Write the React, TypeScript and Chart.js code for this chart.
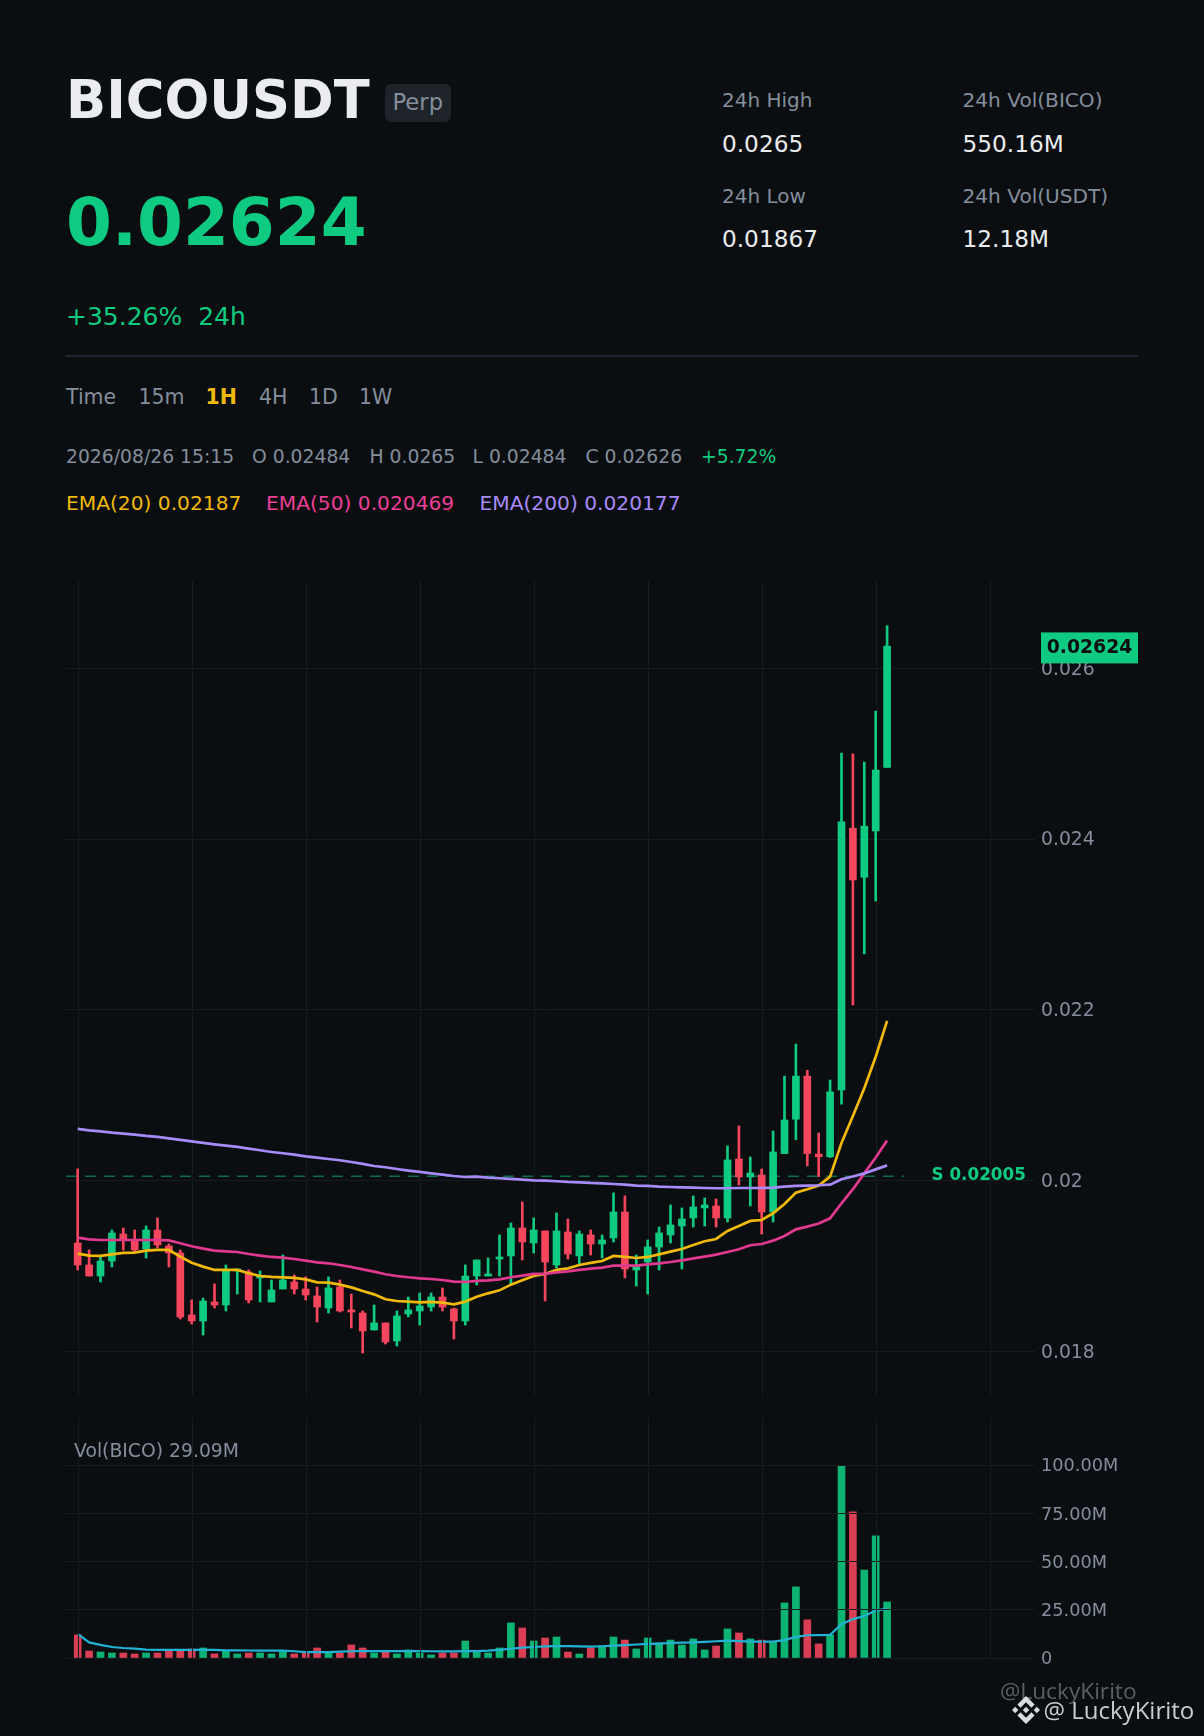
import React, { useEffect, useRef } from "react";
import { Chart, registerables } from "chart.js";

Chart.register(...registerables);

const opens = [
  0.019268, 0.01901, 0.018881, 0.019057, 0.019373, 0.019303, 0.019198, 0.01942, 0.019233, 0.019151,
  0.018424, 0.018354, 0.018577, 0.018541, 0.01894, 0.018928, 0.018858, 0.018577, 0.018729, 0.018811,
  0.018729, 0.018647, 0.018506, 0.018752, 0.018483, 0.018448, 0.018248, 0.018331, 0.01812, 0.018436,
  0.018471, 0.018518, 0.018635, 0.018495, 0.018354, 0.018881, 0.018881, 0.01908, 0.019116, 0.019444,
  0.019268, 0.019409, 0.01901, 0.019397, 0.019116, 0.019362, 0.019256, 0.019327, 0.019631, 0.018952,
  0.019045, 0.019221, 0.019362, 0.019467, 0.019561, 0.019678, 0.019702, 0.019561, 0.020252, 0.020041,
  0.020065, 0.019631, 0.020315, 0.020718, 0.021223, 0.02031, 0.020278, 0.021061, 0.024128, 0.023553,
  0.024095, 0.02484,
];
const highs = [
  0.020135, 0.019186, 0.019104, 0.01942, 0.019444, 0.01942, 0.019467, 0.019561, 0.019256, 0.019186,
  0.0186, 0.018623, 0.018788, 0.01901, 0.018963, 0.018952, 0.01894, 0.018834, 0.019127, 0.018893,
  0.01887, 0.018752, 0.01887, 0.018834, 0.01867, 0.018471, 0.018541, 0.018331, 0.018471, 0.018635,
  0.018682, 0.018682, 0.018741, 0.018506, 0.01901, 0.019069, 0.019092, 0.019362, 0.019502, 0.019748,
  0.019561, 0.019409, 0.01962, 0.019549, 0.019409, 0.01942, 0.019362, 0.019854, 0.019819, 0.019127,
  0.019303, 0.019455, 0.019713, 0.019678, 0.019819, 0.019795, 0.019784, 0.020405, 0.020639, 0.020276,
  0.020135, 0.02058, 0.021223, 0.021598, 0.021292, 0.020556, 0.021177, 0.025008, 0.024999, 0.024901,
  0.025499, 0.0265,
];
const lows = [
  0.018952, 0.018881, 0.018811, 0.018987, 0.019186, 0.019162, 0.019092, 0.019209, 0.018987, 0.018377,
  0.018319, 0.01819, 0.018506, 0.018471, 0.01867, 0.018565, 0.018577, 0.018577, 0.018729, 0.01867,
  0.0186, 0.018342, 0.018448, 0.018459, 0.018272, 0.017979, 0.018248, 0.018084, 0.018061, 0.018401,
  0.018307, 0.018471, 0.018471, 0.018143, 0.018307, 0.018776, 0.018881, 0.018881, 0.018788, 0.019069,
  0.019151, 0.018588, 0.018975, 0.01908, 0.01901, 0.019127, 0.019092, 0.01928, 0.018858, 0.018764,
  0.01867, 0.018952, 0.019268, 0.018963, 0.019455, 0.019467, 0.019455, 0.019514, 0.019948, 0.019702,
  0.019373, 0.019514, 0.020315, 0.020477, 0.020171, 0.020046, 0.020269, 0.020894, 0.022057, 0.022655,
  0.023275, 0.02484,
];
const closes = [
  0.01901, 0.018881, 0.019057, 0.019385, 0.019303, 0.019186, 0.01942, 0.019245, 0.019151, 0.018401,
  0.018354, 0.018588, 0.018541, 0.018952, 0.018963, 0.0186, 0.018881, 0.018717, 0.018834, 0.018729,
  0.018659, 0.018518, 0.018741, 0.018471, 0.018459, 0.018237, 0.018331, 0.018108, 0.018413, 0.018483,
  0.01853, 0.018635, 0.018518, 0.018354, 0.018881, 0.019069, 0.018905, 0.019104, 0.019444, 0.01928,
  0.01942, 0.019045, 0.019409, 0.019139, 0.019373, 0.019256, 0.019303, 0.019631, 0.018963, 0.018998,
  0.019221, 0.019385, 0.019479, 0.019549, 0.01969, 0.019713, 0.019561, 0.020241, 0.020041, 0.020088,
  0.019631, 0.020334, 0.020709, 0.021223, 0.020315, 0.020278, 0.021038, 0.024202, 0.023521, 0.024151,
  0.024809, 0.02626,
];
const ema20 = [
  0.019143, 0.01912, 0.019116, 0.019135, 0.019151, 0.019155, 0.019178, 0.019186, 0.019186, 0.019108,
  0.019037, 0.018991, 0.018952, 0.018952, 0.018952, 0.018913, 0.018881, 0.01887, 0.018866, 0.018858,
  0.018842, 0.018807, 0.018803, 0.01878, 0.018748, 0.018706, 0.018666, 0.018608, 0.018588, 0.018581,
  0.018573, 0.018577, 0.018569, 0.018549, 0.018581, 0.018639, 0.018678, 0.018713, 0.01878, 0.01883,
  0.018881, 0.018905, 0.018952, 0.018971, 0.01901, 0.019034, 0.019057, 0.019116, 0.019104, 0.019092,
  0.019104, 0.019135, 0.019166, 0.019198, 0.019245, 0.019288, 0.019315, 0.019409, 0.019467, 0.019526,
  0.019537, 0.019616, 0.019725, 0.019858, 0.019897, 0.01994, 0.020045, 0.02044, 0.020755, 0.02108,
  0.02145, 0.02187,
];
const ema50 = [
  0.01933, 0.019311, 0.019303, 0.019303, 0.019303, 0.019303, 0.019303, 0.019303, 0.019299, 0.019264,
  0.019229, 0.019202, 0.019178, 0.01917, 0.019162, 0.019139, 0.01912, 0.019104, 0.019096, 0.01908,
  0.019061, 0.019041, 0.01903, 0.01901, 0.018987, 0.018959, 0.018932, 0.018901, 0.018881, 0.018866,
  0.018854, 0.018846, 0.018834, 0.018815, 0.018811, 0.018823, 0.01883, 0.018842, 0.018866, 0.018885,
  0.018905, 0.018905, 0.018924, 0.018936, 0.018952, 0.018967, 0.018979, 0.019002, 0.019002, 0.019002,
  0.019018, 0.01903, 0.019045, 0.019065, 0.019088, 0.019108, 0.019131, 0.019162, 0.019194, 0.019241,
  0.019256, 0.019295, 0.01935, 0.019428, 0.019459, 0.019495, 0.019557, 0.019733, 0.019898, 0.020083,
  0.020269, 0.020469,
];
const ema200 = [
  0.020604, 0.020588, 0.020576, 0.020561, 0.020549, 0.020537, 0.020522, 0.02051, 0.020494, 0.020475,
  0.020459, 0.02044, 0.020424, 0.020409, 0.020393, 0.020373, 0.020354, 0.020334, 0.020319, 0.020303,
  0.020283, 0.020268, 0.020252, 0.020237, 0.020217, 0.020194, 0.02017, 0.020155, 0.020135, 0.020116,
  0.0201, 0.020084, 0.020069, 0.020053, 0.020041, 0.020045, 0.020034, 0.020026, 0.020018, 0.02001,
  0.020002, 0.019998, 0.019991, 0.019983, 0.019979, 0.019971, 0.019967, 0.019959, 0.019951, 0.01994,
  0.019936, 0.019928, 0.019924, 0.01992, 0.019916, 0.019912, 0.019909, 0.019909, 0.019912, 0.019912,
  0.019912, 0.019916, 0.019928, 0.019936, 0.01994, 0.019944, 0.019951, 0.020014, 0.020046, 0.020083,
  0.02013, 0.020177,
];
const volumes = [
  12, 3.6, 3.1, 2.6, 2.6, 2.1, 2.6, 2.6, 3.6, 3.6,
  4.7, 5.2, 2.1, 3.6, 2.1, 2.6, 2.6, 2.1, 3.6, 2.1,
  2.6, 5.2, 2.6, 2.6, 6.8, 5.2, 2.6, 3.6, 2.1, 4.2,
  2.6, 1.6, 2.6, 2.6, 8.8, 3.4, 2.6, 5.2, 18.2, 15.6,
  8.8, 10.4, 10.9, 3.1, 2.1, 5.2, 6.2, 10.9, 9.3, 4.7,
  10.4, 7.8, 9.3, 6.7, 9.9, 4.2, 6.2, 15.1, 13, 9.9,
  9.3, 8.3, 28.6, 36.9, 19.8, 7.3, 12, 99.7, 75.9, 45.7,
  63.4, 29.09,
];
const volumeMa = [
  12.5, 8.1, 6.8, 5.7, 5.2, 4.9, 4.3, 4.2, 4.2, 4.2,
  4.2, 4.2, 4.2, 4.0, 4.0, 3.9, 3.8, 3.8, 3.8, 3.5,
  3.1, 3.1, 3.1, 3.3, 3.5, 3.6, 3.6, 3.6, 3.6, 3.6,
  3.6, 3.5, 3.4, 3.4, 3.6, 3.6, 3.8, 4.2, 4.8, 5.4,
  5.7, 6.0, 6.2, 6.2, 6.0, 5.9, 6.1, 6.4, 6.7, 7.0,
  7.3, 7.5, 7.8, 8.0, 8.1, 8.4, 8.7, 9.0, 8.8, 8.5,
  8.5, 8.5, 9.3, 11, 11.8, 11.9, 12, 17.5, 20.2, 21.8,
  24.6, 25.6,
];
const priceTicks = [0.018, 0.02, 0.022, 0.024, 0.026];
const volumeTicks = [0, 25, 50, 75, 100];
const volumeTickLabels = ["0", "25.00M", "50.00M", "75.00M", "100.00M"];
const timeGrid = [0.07, 10.07, 20.07, 30.07, 40.07, 50.07, 60.07, 70.07, 80.07];
const supportLevel = 0.02005;
const supportSpan = [-1.03, 72.5];
const lastPrice = 0.02624;
const xRange = [-1.026, 83.974];
const priceRange = [0.017475, 0.027024];
const volumeRange = [0, 124.6];

const UP = "#0ecb81";
const DOWN = "#f6465d";
const GRID = "#171b22";
const MUTED = "#848e9c";
const BG = "#0b0e11";
const FONT = '"DejaVu Sans"';

const isUp = (i: number) => closes[i] >= opens[i];
const xTicks = (s: any) => {
  s.ticks = timeGrid.map((value) => ({ value }));
};
const xScale = (gridZ = -1): any => ({
  type: "linear",
  min: xRange[0],
  max: xRange[1],
  offset: false,
  grid: { color: GRID, lineWidth: 1, offset: false, drawTicks: false, z: gridZ },
  border: { display: false },
  ticks: { display: false },
  afterBuildTicks: xTicks,
  afterFit: (s: any) => {
    s.height = 0;
  },
});

const priceOverlay = {
  id: "priceOverlay",
  afterDraw(chart: any) {
    const { ctx, scales } = chart;
    const yS = scales.y.getPixelForValue(supportLevel);
    ctx.save();
    ctx.textBaseline = "middle";
    ctx.textAlign = "left";
    ctx.fillStyle = UP;
    ctx.font = `bold 16.8px ${FONT}`;
    ctx.fillText("S 0.02005", 931.5, yS - 1);
    const yP = scales.y.getPixelForValue(lastPrice);
    ctx.fillStyle = UP;
    ctx.fillRect(1041, yP - 15.5, 97, 31);
    ctx.fillStyle = "#0b0e11";
    ctx.font = `bold 18.8px ${FONT}`;
    ctx.textAlign = "center";
    ctx.fillText("0.02624", 1089.5, yP);
    ctx.restore();
  },
};

function PriceChart() {
  const ref = useRef<HTMLCanvasElement>(null);
  useEffect(() => {
    const idx = closes.map((_, i) => i);
    const line = (label: string, values: number[], color: string, order: number, width = 2.7) => ({
      type: "line",
      label,
      data: idx.map((i) => ({ x: i, y: values[i] })),
      borderColor: color,
      borderWidth: width,
      pointRadius: 0,
      tension: 0,
      order,
    });
    const chart = new Chart(ref.current as HTMLCanvasElement, {
      type: "bar",
      data: {
        datasets: [
          line("EMA(200)", ema200, "#a78bfa", 1),
          line("EMA(50)", ema50, "#e0398f", 2),
          line("EMA(20)", ema20, "#f0b90b", 3),
          {
            type: "bar",
            label: "Body",
            data: idx.map((i) => ({ x: i, y: [opens[i], closes[i]] })),
            backgroundColor: idx.map((i) => (isUp(i) ? UP : DOWN)),
            barThickness: 7,
            grouped: false,
            order: 4,
          },
          {
            type: "bar",
            label: "Wick",
            data: idx.map((i) => ({ x: i, y: [lows[i], highs[i]] })),
            backgroundColor: idx.map((i) => (isUp(i) ? UP : DOWN)),
            barThickness: 2,
            grouped: false,
            order: 5,
          },
          {
            type: "line",
            label: "Support",
            data: supportSpan.map((x) => ({ x, y: supportLevel })),
            borderColor: "rgba(14,203,129,0.5)",
            borderWidth: 1.7,
            borderDash: [11, 8],
            pointRadius: 0,
            order: 6,
          },
        ],
      } as any,
      options: {
        animation: false,
        responsive: false,
        devicePixelRatio: 1,
        layout: { padding: { left: 66, top: 21, bottom: 24, right: 0 } },
        plugins: { legend: { display: false }, tooltip: { enabled: false } },
        scales: {
          x: xScale(),
          y: {
            position: "right",
            min: priceRange[0],
            max: priceRange[1],
            grid: { color: GRID, lineWidth: 1, drawTicks: false },
            border: { display: false },
            afterBuildTicks: (s: any) => {
              s.ticks = priceTicks.map((value) => ({ value }));
            },
            afterFit: (s: any) => {
              s.width = 169;
            },
            ticks: {
              color: MUTED,
              padding: 6,
              labelOffset: 1.5,
              font: { family: FONT, size: 18.8 },
              callback: (v: any) => String(v),
            },
          },
        },
      } as any,
      plugins: [priceOverlay],
    });
    return () => chart.destroy();
  }, []);
  return (
    <canvas
      ref={ref}
      width={1204}
      height={860}
      style={{ position: "absolute", left: 0, top: 560, width: 1204, height: 860 }}
    />
  );
}

function VolumeChart() {
  const ref = useRef<HTMLCanvasElement>(null);
  useEffect(() => {
    const idx = volumes.map((_, i) => i);
    const chart = new Chart(ref.current as HTMLCanvasElement, {
      type: "bar",
      data: {
        datasets: [
          {
            type: "line",
            label: "MA",
            data: idx.map((i) => ({ x: i, y: volumeMa[i] })),
            borderColor: "#22b3d4",
            borderWidth: 2.2,
            pointRadius: 0,
            tension: 0,
            order: 1,
          },
          {
            type: "bar",
            label: "Vol",
            data: idx.map((i) => ({ x: i, y: volumes[i] })),
            backgroundColor: idx.map((i) => (isUp(i) ? "rgba(14,203,129,0.88)" : "rgba(246,70,93,0.88)")),
            barThickness: 7,
            grouped: false,
            order: 2,
          },
        ],
      } as any,
      options: {
        animation: false,
        responsive: false,
        devicePixelRatio: 1,
        layout: { padding: { left: 66, top: 21, bottom: 24, right: 0 } },
        plugins: { legend: { display: false }, tooltip: { enabled: false } },
        scales: {
          x: xScale(1),
          y: {
            position: "right",
            min: volumeRange[0],
            max: volumeRange[1],
            grid: { color: GRID, lineWidth: 1, drawTicks: false, z: 1 },
            border: { display: false },
            afterBuildTicks: (s: any) => {
              s.ticks = volumeTicks.map((value) => ({ value }));
            },
            afterFit: (s: any) => {
              s.width = 169;
            },
            ticks: {
              color: MUTED,
              padding: 6,
              labelOffset: 1.5,
              font: { family: FONT, size: 17.7 },
              callback: (v: any) => volumeTickLabels[volumeTicks.indexOf(v)],
            },
          },
        },
      } as any,
    });
    return () => chart.destroy();
  }, []);
  return (
    <canvas
      ref={ref}
      width={1204}
      height={285}
      style={{ position: "absolute", left: 0, top: 1397, width: 1204, height: 285 }}
    />
  );
}

function T(p: { x: number; y: number; size: number; color?: string; bold?: boolean; font?: string; children: any }) {
  return (
    <div
      style={{
        position: "absolute",
        left: p.x,
        top: p.y - 30,
        height: 60,
        lineHeight: "60px",
        fontSize: p.size,
        fontWeight: p.bold ? 700 : 400,
        color: p.color ?? MUTED,
        fontFamily: p.font ?? FONT,
        whiteSpace: "pre",
      }}
    >
      {p.children}
    </div>
  );
}

export default function App() {
  useEffect(() => {
    document.body.style.margin = "0";
    document.body.style.background = BG;
  }, []);
  return (
    <div style={{ position: "absolute", left: 0, top: 0, width: 1204, height: 1736, background: BG, overflow: "hidden" }}>
      <T x={66} y={100} size={52.7} bold color="#eaecef">BICOUSDT</T>
      <div style={{ position: "absolute", left: 384.5, top: 84, width: 66, height: 38, background: "#1e2329", borderRadius: 6 }} />
      <T x={392.5} y={102} size={22.7}>Perp</T>
      <T x={66} y={223} size={66} bold color={UP}>0.02624</T>
      <T x={66} y={317} size={25} color={UP}>+35.26%  24h</T>

      <T x={722} y={100} size={20}>24h High</T>
      <T x={722} y={144} size={23.2} color="#eaecef">0.0265</T>
      <T x={722} y={196} size={20}>24h Low</T>
      <T x={722} y={239} size={23.2} color="#eaecef">0.01867</T>
      <T x={962.5} y={100} size={20.1}>24h Vol(BICO)</T>
      <T x={962.5} y={144} size={23.2} color="#eaecef">550.16M</T>
      <T x={962.5} y={196} size={20.1}>24h Vol(USDT)</T>
      <T x={962.5} y={239} size={23.2} color="#eaecef">12.18M</T>

      <div style={{ position: "absolute", left: 65, top: 355, width: 1073, height: 2, background: "#1e2430" }} />

      <T x={66} y={397} size={20.5}>Time</T>
      <T x={138.5} y={397} size={20.5}>15m</T>
      <T x={205.5} y={397} size={20.5} bold color="#f0b90b">1H</T>
      <T x={259} y={397} size={20.5}>4H</T>
      <T x={309} y={397} size={20.5}>1D</T>
      <T x={359} y={397} size={20.5}>1W</T>

      <T x={66} y={457} size={18.75}>2026/08/26 15:15</T>
      <T x={252} y={457} size={18.75}>O 0.02484</T>
      <T x={369.5} y={457} size={18.75}>H 0.0265</T>
      <T x={472.5} y={457} size={18.75}>L 0.02484</T>
      <T x={585.5} y={457} size={18.75}>C 0.02626</T>
      <T x={701} y={457} size={18.75} color={UP}>+5.72%</T>

      <T x={66} y={503} size={20.2} color="#f0b90b">EMA(20) 0.02187</T>
      <T x={266} y={503} size={20.2} color="#ec3f96">EMA(50) 0.020469</T>
      <T x={479.5} y={503} size={20.2} color="#a78bfa">EMA(200) 0.020177</T>

      <PriceChart />
      <VolumeChart />

      <T x={74} y={1451} size={18.8}>Vol(BICO) 29.09M</T>

      <T x={1000} y={1691} size={22.7} color="#5a5f67" font='"Open Sans"'>@LuckyKirito</T>
      <svg viewBox="0 0 126.61 126.61" width={28} height={28} style={{ position: "absolute", left: 1012, top: 1696 }}>
        <path
          fill="#d9dbde"
          d="m38.73 53.2 24.59-24.58 24.6 24.6 14.3-14.31L63.32 0 24.42 38.9zM0 63.31l14.3-14.31 14.31 14.31-14.31 14.3zM38.73 73.41l24.59 24.59 24.6-24.6 14.31 14.29-38.9 38.91-38.91-38.88zM98 63.31l14.3-14.31 14.31 14.3-14.31 14.32zM77.83 63.3l-14.51-14.52-10.73 10.73-1.24 1.23-2.54 2.54 14.51 14.5 14.51-14.47z"
        />
      </svg>
      <T x={1043.5} y={1710} size={24} color="#c9ccd1" font='"Open Sans"'>@ LuckyKirito</T>
    </div>
  );
}
